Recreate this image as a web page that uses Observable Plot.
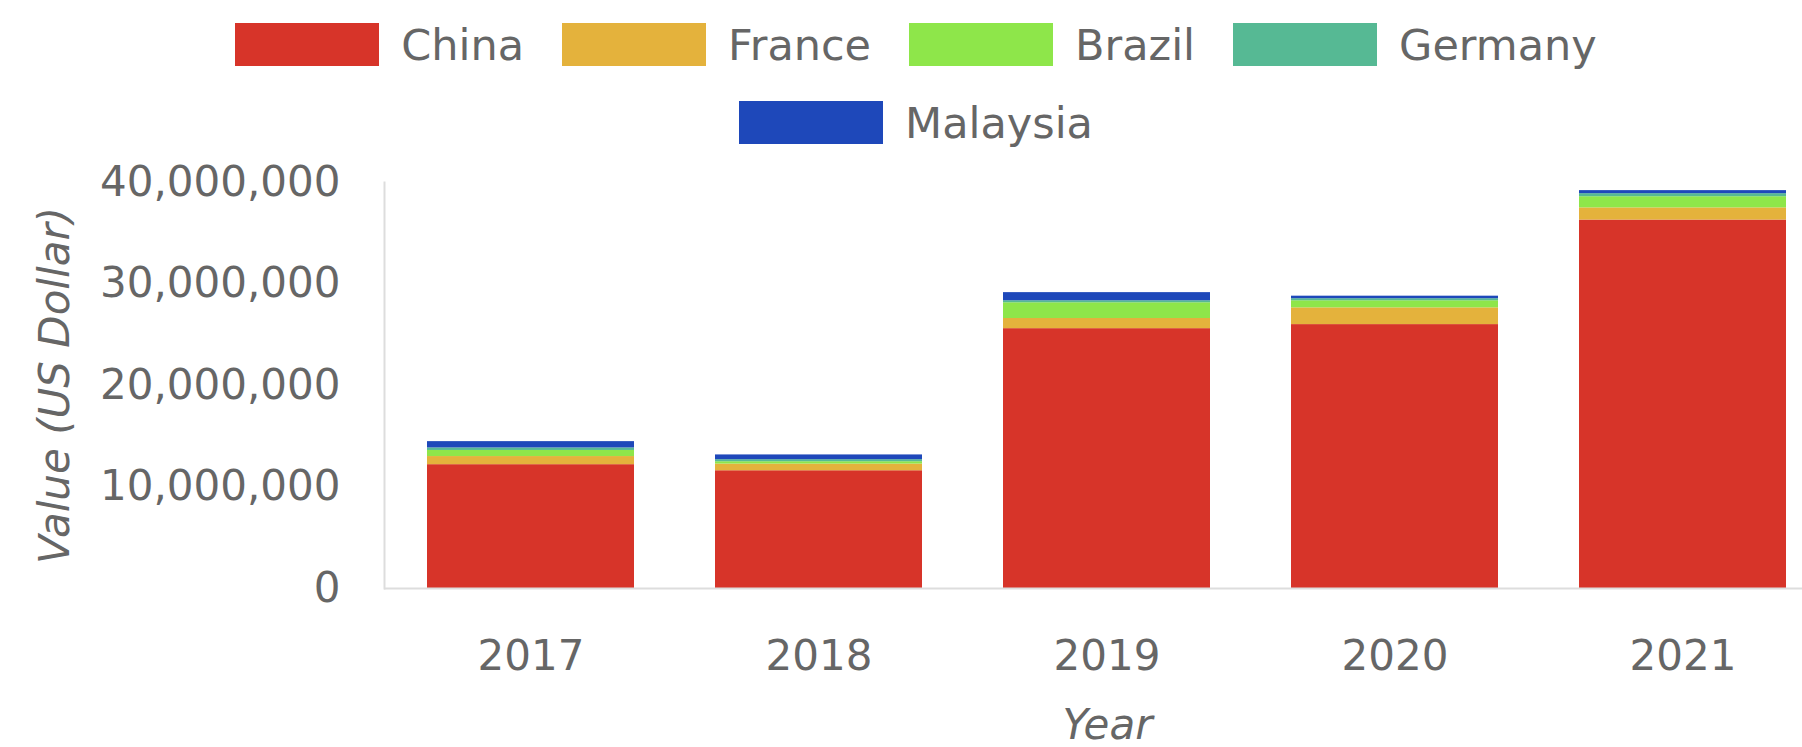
<!DOCTYPE html>
<html>
<head>
<meta charset="utf-8">
<script src="https://cdn.jsdelivr.net/npm/d3@7"></script>
<script src="https://cdn.jsdelivr.net/npm/@observablehq/plot@0.6"></script>
<style>
  html, body { margin: 0; padding: 0; background: #fff; overflow: hidden; }
  #legend { box-sizing: border-box; width: 1802px; height: 144px; padding-left: 30px; padding-top: 23px;
            font-family: "DejaVu Sans", sans-serif; font-size: 43px; color: #666; }
  .row { display: flex; justify-content: center; align-items: center; height: 43px; }
  .row + .row { margin-top: 35px; }
  .item { display: flex; align-items: center; margin: 0 19px; }
  .sw { width: 144px; height: 43px; margin-right: 22px; }
</style>
</head>
<body>
<div id="legend"></div>
<div id="chart"></div>
<script>
const years = ["2017", "2018", "2019", "2020", "2021"];
const countries = ["China", "France", "Brazil", "Germany", "Malaysia"];
const china    = [12200000, 11600000, 25600000, 26000000, 36300000];
const france   = [  800000,   660000,  1000000,  1650000,  1200000];
const brazil   = [  600000,   230000,  1550000,   700000,  1100000];
const germany  = [  250000,   200000,   200000,   200000,   300000];
const malaysia = [  620000,   470000,   800000,   250000,   300000];
const colors = ["#d73429", "#e4b23c", "#8ee64a", "#56b994", "#1e48ba"];
const yTicks = [0, 10000000, 20000000, 30000000, 40000000];
const legendRows = [countries.slice(0, 4), countries.slice(4)];

const series = [china, france, brazil, germany, malaysia];
const data = countries.flatMap((c, i) => series[i].map((v, j) => ({year: years[j], country: c, value: v})));

// legend
const legend = document.getElementById("legend");
legendRows.forEach(row => {
  const r = document.createElement("div");
  r.className = "row";
  row.forEach(c => {
    const it = document.createElement("div");
    it.className = "item";
    const sw = document.createElement("div");
    sw.className = "sw";
    sw.style.background = colors[countries.indexOf(c)];
    const tx = document.createElement("span");
    tx.textContent = c;
    it.appendChild(sw); it.appendChild(tx);
    r.appendChild(it);
  });
  legend.appendChild(r);
});

const chart = Plot.plot({
  width: 1802,
  height: 603,
  marginLeft: 384,
  marginRight: 0,
  marginTop: 38,
  marginBottom: 159,
  style: {fontFamily: "DejaVu Sans, sans-serif", fontSize: "42px", color: "#666", background: "white"},
  x: {domain: years, paddingInner: 0.28, paddingOuter: 0.145, insetRight: -28, label: null},
  y: {domain: [0, 40000000], label: null},
  color: {domain: countries, range: colors},
  marks: [
    Plot.barY(data, {x: "year", y: "value", fill: "country", z: "country", order: countries}),
    Plot.ruleY([0], {stroke: "#dddddd", strokeWidth: 2}),
    Plot.frame({anchor: "left", stroke: "#dddddd", strokeWidth: 2}),
    Plot.axisY({ticks: yTicks, tickSize: 0, tickPadding: 44, tickFormat: d3.format(","), label: null, fontSize: 42}),
    Plot.axisX({tickSize: 0, tickPadding: 52, label: null, fontSize: 42}),
    Plot.text(["Value (US Dollar)"], {frameAnchor: "left", rotate: -90, dx: -329, textAnchor: "middle", fontStyle: "italic", fontSize: 42}),
    Plot.text(["Year"], {frameAnchor: "bottom", dy: 150, dx: 14, textAnchor: "middle", fontStyle: "italic", fontSize: 42})
  ]
});
document.getElementById("chart").appendChild(chart);
</script>
</body>
</html>
